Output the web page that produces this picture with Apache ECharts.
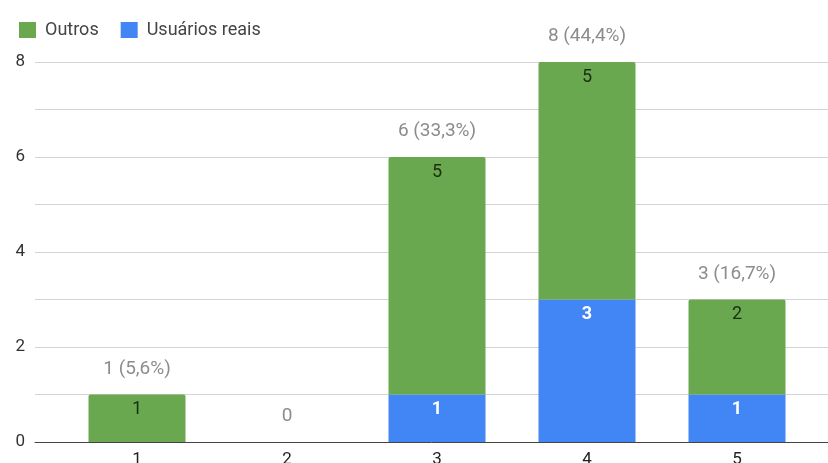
<!DOCTYPE html>
<html>
<head>
<meta charset="utf-8">
<script src="https://cdn.jsdelivr.net/npm/echarts@6/dist/echarts.min.js"></script>
<style>html,body{margin:0;padding:0;background:#fff}#c{width:828px;height:463px}</style>
</head>
<body>
<div id="c"></div>
<script>
const categories = ['1', '2', '3', '4', '5'];
const usuariosReais = [0, 0, 1, 3, 1];
const outros = [1, 0, 5, 5, 2];
const yMin = 0, yMax = 8, yInterval = 2;

const totals = categories.map((c, i) => usuariosReais[i] + outros[i]);
const grand = totals.reduce((a, b) => a + b, 0);
function totalLabel(i) {
  const t = totals[i];
  if (!t) return '0';
  return t + ' (' + (t / grand * 100).toFixed(1).replace('.', ',') + '%)';
}

const chart = echarts.init(document.getElementById('c'));
chart.setOption({
  backgroundColor: '#fff',
  animation: false,
  textStyle: { fontFamily: 'Roboto, Arial, sans-serif' },
  legend: {
    data: ['Outros', 'Usuários reais'],
    left: 14, top: 16,
    icon: 'rect', itemWidth: 17, itemHeight: 16, itemGap: 22,
    textStyle: { fontSize: 18, color: '#444', padding: [0, 0, 0, 4] }
  },
  grid: [
    { left: 62, right: 16, top: 62, bottom: 21, outerBoundsMode: 'none', containLabel: false },
    { left: 35, right: 0, top: 62, bottom: 21, outerBoundsMode: 'none', containLabel: false }
  ],
  xAxis: [
    {
      type: 'category', gridIndex: 0, data: categories,
      axisLine: { show: false }, axisTick: { show: false },
      axisLabel: { fontSize: 17, color: '#222', margin: 9 }
    },
    {
      type: 'value', gridIndex: 1, min: 0, max: 1, z: 10,
      axisLine: { show: true, lineStyle: { color: '#444', width: 1 } },
      axisTick: { show: false }, axisLabel: { show: false }, splitLine: { show: false }
    }
  ],
  yAxis: [
    { type: 'value', gridIndex: 0, min: yMin, max: yMax, interval: yInterval, show: false },
    {
      type: 'value', gridIndex: 1, min: yMin, max: yMax, interval: yInterval,
      axisLine: { show: false }, axisTick: { show: false },
      axisLabel: { fontSize: 17, color: '#333', margin: 10 },
      splitLine: { lineStyle: { color: '#d4d4d4' } },
      minorTick: { show: false, splitNumber: 2 },
      minorSplitLine: { show: true, lineStyle: { color: '#d4d4d4' } }
    }
  ],
  series: [
    {
      name: 'Usuários reais', type: 'bar', stack: 't', xAxisIndex: 0, yAxisIndex: 0,
      data: usuariosReais, barWidth: 97,
      itemStyle: { color: '#4285f4' },
      label: {
        show: true, position: 'insideTop', distance: 6, color: '#fff',
        fontWeight: 'bold', fontSize: 18,
        formatter: p => p.value ? String(p.value) : ''
      }
    },
    {
      name: 'Outros', type: 'bar', stack: 't', xAxisIndex: 0, yAxisIndex: 0,
      data: outros, barWidth: 97,
      itemStyle: { color: '#6aa84f', borderRadius: [2, 2, 0, 0] },
      label: {
        show: true, position: 'insideTop', distance: 6, color: '#1a2e12',
        fontSize: 18,
        formatter: p => p.value ? String(p.value) : ''
      }
    },
    {
      name: 'Total', type: 'bar', stack: 't', xAxisIndex: 0, yAxisIndex: 0,
      data: categories.map(() => 0), barWidth: 97,
      itemStyle: { color: 'rgba(0,0,0,0)' },
      label: {
        show: true, position: 'top', distance: 16, color: '#8c8c8c', fontSize: 19,
        formatter: p => totalLabel(p.dataIndex)
      },
      tooltip: { show: false }
    }
  ]
});
</script>
</body>
</html>
